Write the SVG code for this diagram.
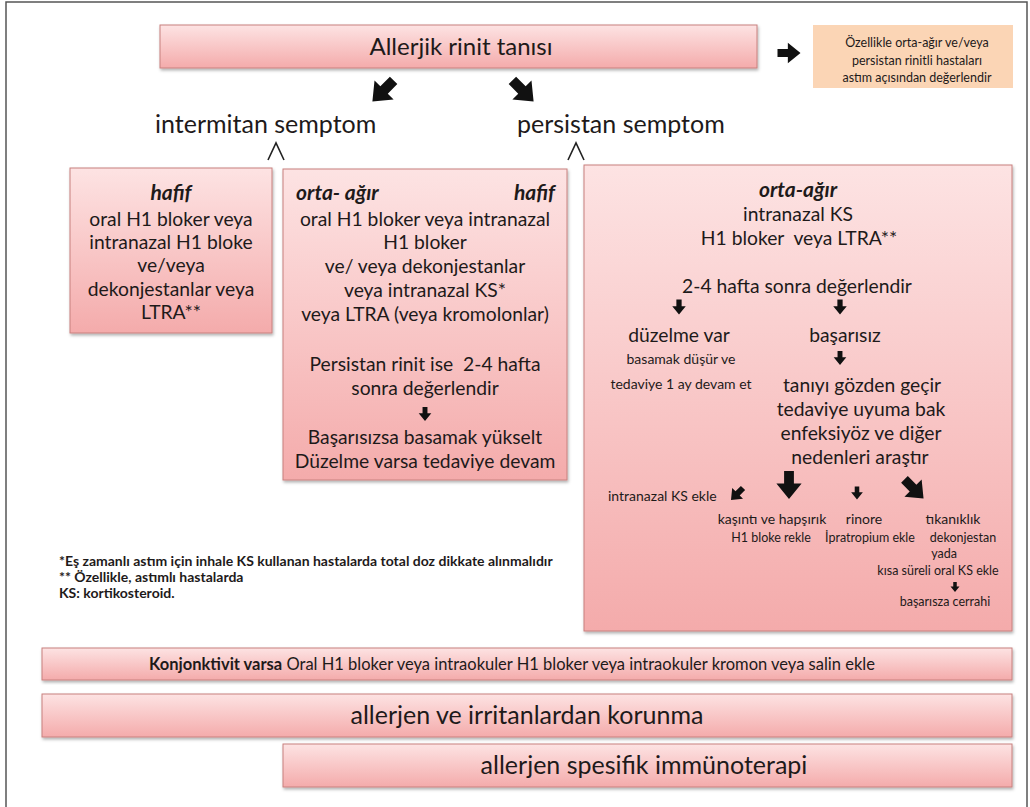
<svg xmlns="http://www.w3.org/2000/svg" xmlns:xlink="http://www.w3.org/1999/xlink" width="1030" height="807" viewBox="0 0 1030 807">
<defs>
<linearGradient id="pk" x1="0" y1="0" x2="0" y2="1">
<stop offset="0" stop-color="#fde3e3"/>
<stop offset="1" stop-color="#f4abab"/>
</linearGradient>
<filter id="sh" x="-5%" y="-5%" width="110%" height="120%">
<feDropShadow dx="1" dy="2" stdDeviation="1.5" flood-color="#000" flood-opacity="0.3"/>
</filter>
<path id="arr" d="M-3.5,-10 H3.5 V-1 H9 L0,10 L-9,-1 H-3.5 Z"/>
<style>
.bx{fill:url(#pk);stroke:#c8807e;stroke-width:1;filter:url(#sh)}
text{font-family:Lato,"Open Sans","Liberation Sans",sans-serif;fill:#1e1a1a}
.c{text-anchor:middle}
.t24{font-size:24px}
.t25{font-size:25px}
.t19{font-size:19.3px}
.t14{font-size:14px}
.t12{font-size:12.5px}
.bi{font-weight:bold;font-style:italic;font-size:21px}
.fn{font-size:14px;font-weight:bold}
.ar{fill:#111}
.cr{fill:none;stroke:#222;stroke-width:1.6}
</style>
</defs>
<rect x="6" y="2" width="1021" height="812" fill="#fff" stroke="#555" stroke-width="1.5"/>

<g id="diagnosis">
<rect class="bx" x="160" y="25" width="597" height="43"/>
<text class="c t24" x="461" y="55">Allerjik rinit tanısı</text>
</g>

<g id="asthma-note">
<rect x="813" y="25" width="200" height="63" fill="#fbd5b5"/>
<text class="c t12" x="917" y="47">Özellikle orta-ağır ve/veya</text>
<text class="c t12" x="917" y="65">persistan rinitli hastaları</text>
<text class="c t12" x="917" y="82">astım açısından değerlendir</text>
</g>

<g id="intermittent">
<text class="t25" x="155" y="133">intermitan semptom</text>
</g>
<g id="persistent">
<text class="t25" x="517" y="133">persistan semptom</text>
</g>

<g id="int-mild">
<rect class="bx" x="70" y="168" width="202" height="165"/>
<text class="c bi" x="171" y="200">hafif</text>
<text class="c t19" x="171" y="226">oral H1 bloker veya</text>
<text class="c t19" x="171" y="249">intranazal H1 bloke</text>
<text class="c t19" x="171" y="272">ve/veya</text>
<text class="c t19" x="171" y="296">dekonjestanlar veya</text>
<text class="c t19" x="171" y="319">LTRA**</text>
</g>

<g id="int-mod-pers-mild">
<rect class="bx" x="283" y="169" width="284" height="311"/>
<text class="bi" x="296" y="200">orta- ağır</text>
<text class="bi" x="555" y="200" text-anchor="end">hafif</text>
<text class="c t19" x="425" y="226">oral H1 bloker veya intranazal</text>
<text class="c t19" x="425" y="249">H1 bloker</text>
<text class="c t19" x="425" y="273">ve/ veya dekonjestanlar</text>
<text class="c t19" x="425" y="297">veya intranazal KS*</text>
<text class="c t19" x="425" y="321">veya LTRA (veya kromolonlar)</text>
<text class="c t19" x="425" y="371" xml:space="preserve">Persistan rinit ise  2-4 hafta</text>
<text class="c t19" x="425" y="395">sonra değerlendir</text>
<text class="c t19" x="425" y="444">Başarısızsa basamak yükselt</text>
<text class="c t19" x="425" y="468">Düzelme varsa tedaviye devam</text>
</g>

<g id="pers-mod">
<rect class="bx" x="584" y="165" width="428" height="466"/>
<text class="c bi" x="798" y="197">orta-ağır</text>
<text class="c t19" x="798" y="221">intranazal KS</text>
<text class="c t19" x="799" y="245" xml:space="preserve">H1 bloker  veya LTRA**</text>
<text class="c t19" x="797" y="293">2-4 hafta sonra değerlendir</text>
<text class="c t19" x="679" y="342">düzelme var</text>
<text class="c t19" x="845" y="342">başarısız</text>
<text class="c t14" x="681" y="364">basamak düşür ve</text>
<text class="c t14" x="681" y="389">tedaviye 1 ay devam et</text>
<text class="c t19" x="862" y="392">tanıyı gözden geçir</text>
<text class="c t19" x="861" y="416">tedaviye uyuma bak</text>
<text class="c t19" x="861" y="440">enfeksiyöz ve diğer</text>
<text class="c t19" x="860" y="464">nedenleri araştır</text>
<text class="t14" x="608" y="501">intranazal KS ekle</text>
<text class="c t14" x="772" y="524">kaşıntı ve hapşırık</text>
<text class="c t14" x="864" y="524">rinore</text>
<text class="c t14" x="953" y="524">tıkanıklık</text>
<text class="c t12" x="771" y="542">H1 bloke rekle</text>
<text class="c t12" x="870" y="542">İpratropium ekle</text>
<text class="c t12" x="963" y="542">dekonjestan</text>
<text class="c t12" x="944" y="558">yada</text>
<text class="c t12" x="938" y="575">kısa süreli oral KS ekle</text>
<text class="c t12" x="945" y="606">başarısza cerrahi</text>
</g>

<g id="footnotes">
<text class="fn" x="59" y="566">*Eş zamanlı astım için inhale KS kullanan hastalarda total doz dikkate alınmalıdır</text>
<text class="fn" x="59" y="582">** Özellikle, astımlı hastalarda</text>
<text class="fn" x="59" y="598">KS: kortikosteroid.</text>
</g>

<g id="conjunctivitis">
<rect class="bx" x="42" y="648" width="970" height="32"/>
<text x="512" y="670" font-size="16.5px" text-anchor="middle"><tspan font-weight="bold">Konjonktivit varsa</tspan> Oral H1 bloker veya intraokuler H1 bloker veya intraokuler kromon veya salin ekle</text>
</g>

<g id="avoidance">
<rect class="bx" x="42" y="694" width="970" height="43"/>
<text class="c t25" x="527" y="724">allerjen ve irritanlardan korunma</text>
</g>

<g id="immunotherapy">
<rect class="bx" x="283" y="744" width="729" height="43"/>
<text class="c t25" x="644" y="774">allerjen spesifik immünoterapi</text>
</g>

<g id="connectors">
<use class="ar" href="#arr" transform="translate(789,53) rotate(-90) scale(1.15)"/>
<use class="ar" href="#arr" transform="translate(383,91) rotate(45) scale(1.5)"/>
<use class="ar" href="#arr" transform="translate(523,91) rotate(-45) scale(1.5)"/>
<polyline class="cr" points="268,160 276,143 284,160"/>
<polyline class="cr" points="568,160 576,143 584,160"/>
<use class="ar" href="#arr" transform="translate(425,414) scale(0.7)"/>
<use class="ar" href="#arr" transform="translate(679,307) scale(0.75)"/>
<use class="ar" href="#arr" transform="translate(840,307) scale(0.75)"/>
<use class="ar" href="#arr" transform="translate(840,358) scale(0.7)"/>
<use class="ar" href="#arr" transform="translate(737,494) rotate(45) scale(0.85)"/>
<use class="ar" href="#arr" transform="translate(789,485) scale(1.4)"/>
<use class="ar" href="#arr" transform="translate(857,493) scale(0.65)"/>
<use class="ar" href="#arr" transform="translate(914,489) rotate(-45) scale(1.35)"/>
<use class="ar" href="#arr" transform="translate(955,587) scale(0.5)"/>
</g>
</svg>
